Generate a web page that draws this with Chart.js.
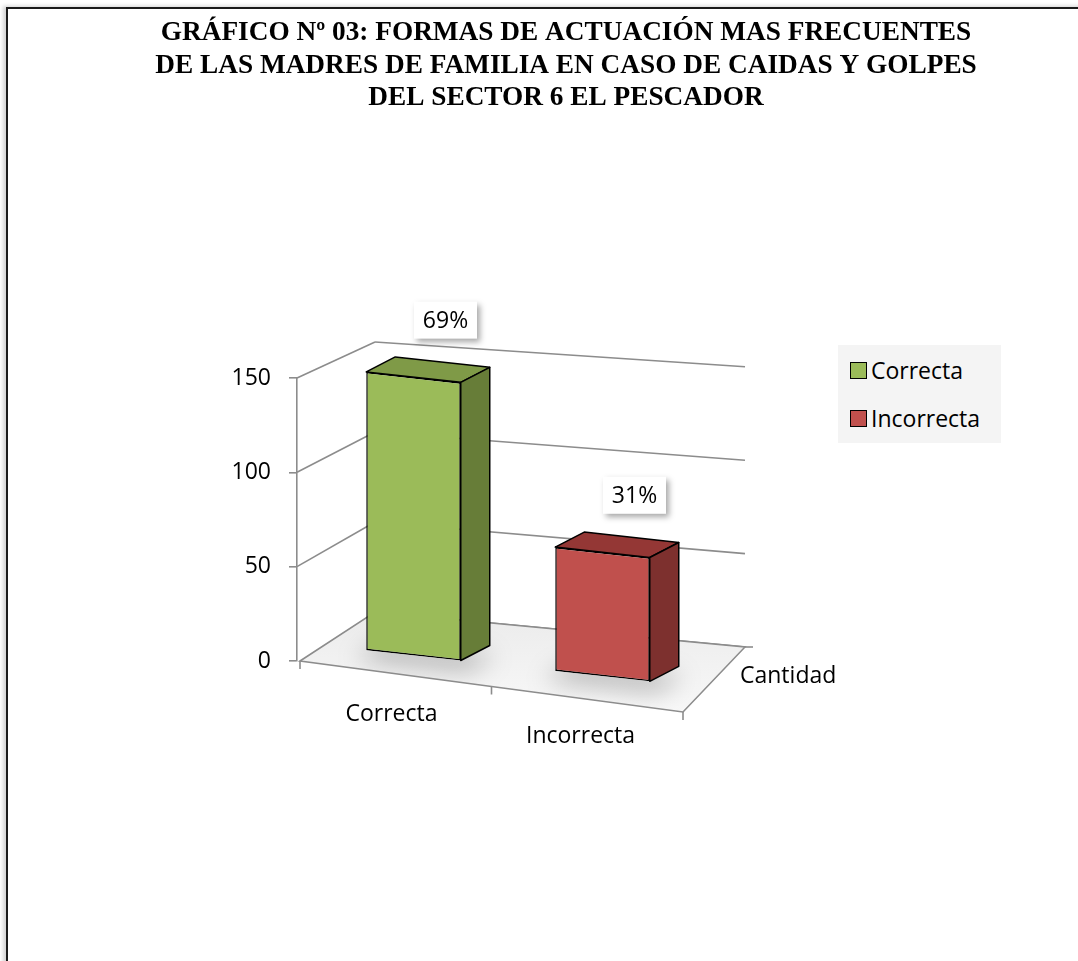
<!DOCTYPE html>
<html><head><meta charset="utf-8">
<script src="https://cdn.jsdelivr.net/npm/chart.js@4/dist/chart.umd.min.js"></script>
<style>
html,body{margin:0;padding:0;background:#fff;}
body{width:1078px;height:961px;position:relative;overflow:hidden;}
#frame{position:absolute;left:6px;top:7px;width:1200px;height:1100px;border-left:2px solid #1a1a1a;border-top:2px solid #1a1a1a;box-shadow:-3px -1px 4px rgba(0,0,0,0.18);}
#c{position:absolute;left:0;top:0;}
#legend{position:absolute;left:838px;top:345px;width:163px;height:98px;background:#f4f4f4;font-family:'Open Sans',sans-serif;font-size:23px;color:#000;}
.item{position:absolute;left:12px;height:28px;line-height:28px;display:flex;align-items:center;white-space:nowrap;}
.sw{width:15px;height:15px;border:1.5px solid #000;margin-right:4px;}
</style></head>
<body>
<div id="frame"></div>
<canvas id="c" width="1078" height="961"></canvas>
<div id="legend"></div>
<script>
// ---- data ----
const categories = ['Correcta', 'Incorrecta'];
const cantidad = [150, 67];
const yTicks = [0, 50, 100, 150];
const seriesName = 'Cantidad';
const titleLines = [
  'GRÁFICO Nº 03: FORMAS DE ACTUACIÓN MAS FRECUENTES',
  'DE LAS MADRES DE FAMILIA EN CASO DE CAIDAS Y GOLPES',
  'DEL SECTOR 6 EL PESCADOR'
];
// ---- styles ----
const frontColors = ['#9bbb59', '#c0504d'];
const topColors = ['#7f9a47', '#943735'];
const sideColors = ['#677d38', '#7d302e'];
const gridColor = '#8c8c8c';
const textFont = "'Open Sans'";
const textSize = 23;

// legend (HTML)
const lg = document.getElementById('legend');
categories.forEach((c, i) => {
  const d = document.createElement('div');
  d.className = 'item';
  d.style.top = (11 + i * 48) + 'px';
  d.innerHTML = '<span class="sw" style="background:' + frontColors[i] + '"></span>' + c;
  lg.appendChild(d);
});

const K = 0.11, S = 0.9857, SHIFT = 22, DEPTH = [29, -15];
function barMatrix(a) {
  const f = a.bottom - 10 - S * a.bottom + K * (SHIFT - a.left - 70);
  return [1, K, 0, S, SHIFT, f];
}
function proj(a, x, y) {
  const m = barMatrix(a);
  return [m[0] * x + m[2] * y + m[4], m[1] * x + m[3] * y + m[5]];
}
function add(p, d) { return [p[0] + d[0], p[1] + d[1]]; }
function poly(ctx, pts) {
  ctx.beginPath();
  ctx.moveTo(pts[0][0], pts[0][1]);
  for (let i = 1; i < pts.length; i++) ctx.lineTo(pts[i][0], pts[i][1]);
  ctx.closePath();
}

const scene3d = {
  id: 'scene3d',
  beforeDatasetsDraw(chart) {
    const ctx = chart.ctx, a = chart.chartArea, ys = chart.scales.y, xs = chart.scales.x;
    const L = a.left, B = a.bottom;
    const yv = v => ys.getPixelForValue(v);
    const backL = v => [L + 78, B - 49 - 0.954 * (B - yv(v))];
    const backR = v => [L + 448, B - 14 - 0.99 * (B - yv(v))];
    const FL = [L + 3, B], BL = backL(0), BR = backR(0), FR = [L + 386, B + 51];
    ctx.save();
    ctx.strokeStyle = gridColor; ctx.lineWidth = 1.6;
    ys.ticks.forEach(t => {
      const v = t.value;
      const p = backL(v), q = backR(v);
      ctx.beginPath(); ctx.moveTo(p[0], p[1]); ctx.lineTo(q[0], q[1]); ctx.stroke();
      if (v > 0) {
        ctx.beginPath(); ctx.moveTo(L, yv(v)); ctx.lineTo(p[0], p[1]); ctx.stroke();
      }
    });
    // floor
    const floor = [FL, BL, BR, FR];
    const g = ctx.createLinearGradient(0, BL[1], 0, FR[1]);
    g.addColorStop(0, '#ebebeb'); g.addColorStop(1, '#f8f8f8');
    poly(ctx, floor); ctx.fillStyle = g; ctx.fill();
    // soft shadows under bars
    ctx.save();
    poly(ctx, floor); ctx.clip();
    ctx.filter = 'blur(12px)';
    ctx.fillStyle = 'rgba(0,0,0,0.28)';
    const meta = chart.getDatasetMeta(0);
    meta.data.forEach(bar => {
      const p = bar.getProps(['x', 'base', 'width'], true);
      const l = p.x - p.width / 2 - 12, r = p.x + p.width / 2 + 6;
      const b1 = proj(a, l, p.base + 10), b2 = proj(a, r, p.base + 10);
      poly(ctx, [b1, b2, add(b2, DEPTH), add(b1, DEPTH)]);
      ctx.fill();
    });
    ctx.restore();
    poly(ctx, floor); ctx.stroke();
    // front edge ticks at category boundaries
    const n = categories.length, w = (xs.right - xs.left);
    for (let i = 0; i <= n; i++) {
      const t = (xs.getPixelForValue(0) - w / (2 * n) + i * w / n - xs.left) / w;
      const p = [FL[0] + t * (FR[0] - FL[0]), FL[1] + t * (FR[1] - FL[1])];
      ctx.beginPath(); ctx.moveTo(p[0], p[1]); ctx.lineTo(p[0], p[1] + 8); ctx.stroke();
    }
    ctx.beginPath(); ctx.moveTo(BR[0], BR[1]); ctx.lineTo(BR[0] + 8, BR[1]); ctx.stroke();
    // depth axis label
    ctx.fillStyle = '#000';
    ctx.font = textSize + 'px ' + textFont;
    ctx.textAlign = 'left'; ctx.textBaseline = 'middle';
    ctx.fillText(seriesName, FR[0] + 57, FR[1] - 36);
    ctx.restore();
    // transform for bar front faces
    ctx.save();
    const m = barMatrix(a);
    ctx.transform(m[0], m[1], m[2], m[3], m[4], m[5]);
  },
  afterDatasetsDraw(chart) {
    const ctx = chart.ctx, a = chart.chartArea;
    ctx.restore();
    ctx.save();
    const meta = chart.getDatasetMeta(0);
    const data = chart.data.datasets[0].data;
    const total = data.reduce((s, v) => s + v, 0);
    meta.data.forEach((bar, i) => {
      const p = bar.getProps(['x', 'y', 'base', 'width'], true);
      const l = p.x - p.width / 2, r = p.x + p.width / 2;
      const TL = proj(a, l, p.y), TR = proj(a, r, p.y), BRp = proj(a, r, p.base);
      ctx.lineWidth = 1.5; ctx.strokeStyle = '#000'; ctx.lineJoin = 'round';
      poly(ctx, [TL, TR, add(TR, DEPTH), add(TL, DEPTH)]);
      ctx.fillStyle = topColors[i]; ctx.fill(); ctx.stroke();
      poly(ctx, [TR, BRp, add(BRp, DEPTH), add(TR, DEPTH)]);
      ctx.fillStyle = sideColors[i]; ctx.fill(); ctx.stroke();
      // value label
      const mt = add(proj(a, p.x, p.y), DEPTH);
      const cx = mt[0] + 3, cy = mt[1] - 42;
      const bw = 63, bh = 37;
      ctx.save();
      ctx.shadowColor = 'rgba(0,0,0,0.35)';
      ctx.shadowBlur = 6; ctx.shadowOffsetX = 3; ctx.shadowOffsetY = 3;
      ctx.fillStyle = '#fff';
      ctx.fillRect(cx - bw / 2, cy - bh / 2, bw, bh);
      ctx.restore();
      ctx.fillStyle = '#000';
      ctx.font = textSize + 'px ' + textFont;
      ctx.textAlign = 'center'; ctx.textBaseline = 'middle';
      ctx.fillText(Math.round(data[i] / total * 100) + '%', cx, cy + 1);
    });
    ctx.restore();
  }
};

new Chart(document.getElementById('c'), {
  type: 'bar',
  data: {
    labels: categories,
    datasets: [{
      label: seriesName,
      data: cantidad,
      backgroundColor: frontColors,
      borderColor: '#000',
      borderWidth: 1.5,
      borderSkipped: false,
      barPercentage: 0.5,
      categoryPercentage: 1,
      clip: false
    }]
  },
  options: {
    responsive: false,
    animation: false,
    layout: { padding: { left: 54, right: 0, top: 0, bottom: 0 } },
    plugins: {
      legend: { display: false },
      tooltip: { enabled: false },
      title: {
        display: true,
        text: titleLines,
        color: '#000',
        font: { family: 'Liberation Serif', size: 27.3, weight: 'bold', lineHeight: 1.19 },
        padding: { top: 17, bottom: 263.5 }
      }
    },
    scales: {
      x: {
        grid: { display: false, drawTicks: false },
        border: { display: false },
        ticks: {
          padding: 43, color: '#000', maxRotation: 0, autoSkip: false,
          font: { family: textFont, size: textSize, lineHeight: 0.95 },
          callback: function (value, index) {
            const lab = this.getLabelForValue(value);
            return index % 2 === 1 ? ['', lab] : lab;
          }
        },
        afterFit: s => { s.height = 300; }
      },
      y: {
        min: 0, max: 150,
        afterBuildTicks: s => { s.ticks = yTicks.map(v => ({ value: v })); },
        ticks: { padding: 18, color: '#000', font: { family: textFont, size: textSize } },
        grid: { drawOnChartArea: false, drawTicks: true, tickLength: 8, color: gridColor, lineWidth: 1.6 },
        border: { display: true, color: gridColor, width: 1.6 },
        afterFit: s => { s.width = 243; }
      },
      yR: {
        type: 'linear', axis: 'y', position: 'right', display: true,
        ticks: { display: false }, grid: { display: false }, border: { display: false },
        afterFit: s => { s.width = 403; }
      }
    }
  },
  plugins: [scene3d]
});
</script>
</body></html>
